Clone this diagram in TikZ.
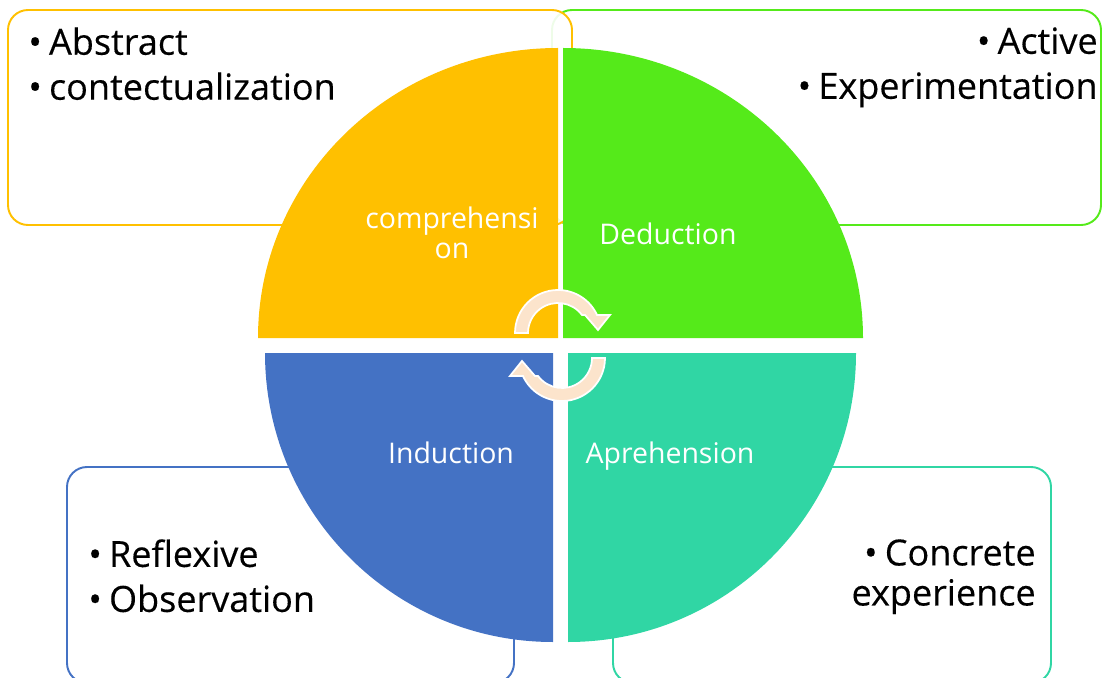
\documentclass[tikz,border=0pt]{standalone}
\usepackage{fontspec}
\setmainfont{Open Sans}
\definecolor{gold}{RGB}{255,192,0}
\definecolor{lime}{RGB}{85,234,26}
\definecolor{steel}{RGB}{68,114,196}
\definecolor{mint}{RGB}{48,214,164}
\definecolor{peach}{RGB}{252,228,204}
\newcommand{\itembullet}{•\hspace{0.2em}}

\begin{document}
\begin{tikzpicture}[x=0.02cm, y=0.02cm,
    textbox/.style={draw, line width=1.1pt, rounded corners=0.4cm},
    itemtext/.style={inner sep=0pt, font=\fontsize{20.5}{22.8}\selectfont\addfontfeature{FakeBold=0.3}},
    quadlabel/.style={inner sep=0pt, text=white, font=\fontsize{16.2}{17}\selectfont, align=center},
    cyclearrow/.style={fill=peach, draw=white, line width=1pt}]
    \useasboundingbox (0,0) rectangle (1102,677);
    \clip (0,0) rectangle (1102,677);

    % Outer text boxes
    \draw [textbox, lime] (552,667) rectangle (1101,452);
    \draw [textbox, gold, fill=white, fill opacity=0.9] (8,667) rectangle (572,452);
    \draw [textbox, steel] (67,210) rectangle (514,-6);
    \draw [textbox, mint] (613,210) rectangle (1051,-6);

    % Circle quadrants
    \fill [gold] (558,339) -- (258,339) arc[start angle=180, end angle=90, x radius=300, y radius=290] -- cycle;
    \fill [lime] (563,339) -- (563,629) arc[start angle=90, end angle=0, x radius=300, y radius=290] -- cycle;
    \fill [steel] (553,324) -- (265,324) arc[start angle=180, end angle=270, x radius=288, y radius=289] -- cycle;
    \fill [mint] (568,324) -- (856,324) arc[start angle=0, end angle=-90, x radius=288, y radius=289] -- cycle;

    % Cycle arrows in the middle
    \foreach \cx/\cy/\rot in {558/344/0, 562/319/180} {
        \begin{scope}[shift={(\cx,\cy)}, rotate=\rot]
            \draw [cyclearrow] (180:43) arc[start angle=180, end angle=24.7, radius=43]
                -- (52,18) -- (40,3) -- (27,18) -- (36.9:30)
                arc[start angle=36.9, end angle=180, radius=30] -- cycle;
        \end{scope}
    }

    % Quadrant labels
    \node [quadlabel, anchor=north] (comprehension) at (452,470) {comprehensi\\on};
    \node [quadlabel, anchor=base] (deduction) at (668,432) {Deduction};
    \node [quadlabel, anchor=base] (induction) at (451,214) {Induction};
    \node [quadlabel, anchor=base] (aprehension) at (670,214) {Aprehension};

    % Box texts
    \node [itemtext, anchor=north west, align=left] (abstract) at (28,650) {\itembullet Abstract\\[2.8pt]\itembullet contectualization};
    \node [itemtext, anchor=north east, align=right] (active) at (1098,650) {\itembullet Active\\[2.8pt]\itembullet Experimentation};
    \node [itemtext, anchor=north west, align=left] (reflexive) at (88,138) {\itembullet Reflexive\\[2.8pt]\itembullet Observation};
    \node [itemtext, anchor=north east, align=right] (concrete) at (1036,138) {\itembullet Concrete\\experience};
\end{tikzpicture}
\end{document}
